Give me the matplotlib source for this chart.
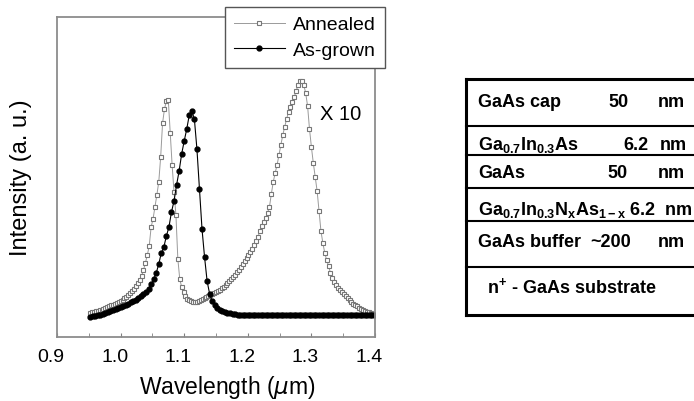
import numpy as np
import matplotlib
matplotlib.use("Agg")
import matplotlib.pyplot as plt
from matplotlib.transforms import ScaledTranslation

plt.rcParams['font.family'] = ['Liberation Sans', 'DejaVu Sans']
plt.rcParams['mathtext.fontset'] = 'custom'
plt.rcParams['mathtext.rm'] = 'Liberation Sans:bold'
plt.rcParams['mathtext.it'] = 'Liberation Sans:bold'
plt.rcParams['mathtext.bf'] = 'Liberation Sans:bold'
plt.rcParams['mathtext.sf'] = 'Liberation Sans:bold'

# PL spectra, intensity in arbitrary units (annealed peak near 1.28 um shown x10)
annealed_start, annealed_step = 0.952, 0.003
annealed = [
    24, 25, 25, 26, 26, 27, 27, 28, 29, 30,
    31, 32, 32, 33, 34, 35, 36, 37, 39, 40,
    42, 44, 46, 48, 51, 54, 57, 61, 67, 74,
    82, 91, 110, 118, 130, 142, 155, 180, 214, 228,
    236, 237, 204, 172, 145, 122, 78, 58, 50, 45,
    41, 38, 37, 36, 35, 35, 35, 36, 37, 38,
    39, 40, 41, 42, 43, 44, 45, 46, 47, 49,
    50, 52, 54, 56, 58, 60, 62, 65, 67, 70,
    73, 76, 79, 82, 85, 88, 92, 96, 100, 106,
    111, 115, 119, 124, 130, 143, 155, 164, 172, 182,
    192, 202, 210, 218, 225, 230, 235, 240, 246, 252,
    256, 256, 252, 244, 231, 208, 190, 174, 160, 146,
    126, 106, 94, 84, 77, 71, 64, 59, 55, 52,
    49, 47, 45, 43, 41, 39, 37, 35, 33, 32,
    31, 29, 28, 27, 26, 25, 25, 24, 23,
]

grown_start, grown_step = 0.952, 0.004
as_grown = [
    20, 21, 21, 22, 22, 23, 24, 25, 26, 27,
    28, 29, 30, 31, 32, 33, 35, 36, 37, 39,
    41, 43, 45, 48, 53, 58, 64, 73, 84, 90,
    101, 110, 125, 136, 152, 166, 183, 196, 208, 222,
    226, 218, 188, 148, 108, 80, 56, 43, 36, 32,
    29, 27, 26, 25, 24, 24, 23, 23, 22, 22,
    22, 22, 22, 22, 22, 22, 22, 22, 22, 22,
    22, 22, 22, 22, 22, 22, 22, 22, 22, 22,
    22, 22, 22, 22, 22, 22, 22, 22, 22, 22,
    22, 22, 22, 22, 22, 22, 22, 22, 22, 22,
    22, 22, 22, 22, 22, 22, 22, 22, 22, 22,
    22, 22, 22, 21,
]

wl_annealed = annealed_start + annealed_step * np.arange(len(annealed))
wl_grown = grown_start + grown_step * np.arange(len(as_grown))

major_ticks = [0.9, 1.0, 1.1, 1.2, 1.3, 1.4]
minor_ticks = [0.95, 1.05, 1.15, 1.25, 1.35]

# layer stack of the sample: (left text, value, value x, unit x, baseline y)
layers = [
    ("GaAs cap", "50", 608, 658, 107),
    ("Ga$_{0.7}$In$_{0.3}$As", "6.2", 623, 660, 150),
    ("GaAs", "50", 607, 658, 178),
    ("Ga$_{0.7}$In$_{0.3}$N$_{x}$As$_{1-x}$ 6.2  nm", "", 0, 0, 215),
    ("GaAs buffer", "~200", 590, 658, 247),
]
substrate = "n$^{+}$ - GaAs substrate"
row_lines = [127, 156, 189, 222, 268]

fig = plt.figure(figsize=(6.94, 4.02), dpi=100)
ax = fig.add_axes([57 / 694, 64 / 402, 318 / 694, 320 / 402])

ax.plot(wl_annealed, annealed, color='#9a9a9a', lw=0.7, marker='s', ms=3.3,
        mfc='white', mec='#777777', mew=0.8, label='Annealed')
ax.plot(wl_grown, as_grown, color='black', lw=0.8, marker='o', ms=3.5,
        mfc='black', mec='black', label='As-grown')

ax.set_xlim(0.9, 1.4)
ax.set_ylim(0, 320)
ax.set_xticks(major_ticks)
ax.set_xticks(minor_ticks, minor=True)
ax.set_xticklabels([f"{t:.1f}" for t in major_ticks])
ax.set_yticks([])
ax.tick_params(axis='x', which='both', direction='in', length=3, color='#808080',
               labelsize=14, pad=8)
for lbl in ax.get_xticklabels():
    lbl.set_transform(lbl.get_transform() + ScaledTranslation(-6 / 100, 0, fig.dpi_scale_trans))
for s in ax.spines.values():
    s.set_color('#8c8c8c')
    s.set_linewidth(1.3)

ax.set_xlabel('Wavelength ($\\mu$m)', fontsize=16.5, math_fontfamily='dejavusans')
ax.xaxis.set_label_coords(0.536, -0.112)
ax.set_ylabel('Intensity (a. u.)', fontsize=17, labelpad=18)

ax.text(1.3135, 223, 'X 10', fontsize=14.5, ha='left', va='center')

leg = ax.legend(loc='upper right', bbox_to_anchor=(385 / 694, 394 / 402),
                bbox_transform=fig.transFigure, fontsize=14, fancybox=False,
                edgecolor='#555555', framealpha=1, borderaxespad=0,
                handlelength=2.6, handletextpad=0.45, borderpad=0.45,
                labelspacing=0.4)
leg.get_frame().set_linewidth(1.0)

# sample structure table, drawn in pixel coordinates
tab = fig.add_axes([0, 0, 1, 1])
tab.set_xlim(0, 694)
tab.set_ylim(402, 0)
tab.axis('off')
tab.plot([466, 466], [80, 316], color='black', lw=2.2, solid_capstyle='projecting')
tab.plot([466, 700], [80, 80], color='black', lw=2.2)
tab.plot([466, 700], [316, 316], color='black', lw=2.2)
for y in row_lines:
    tab.plot([466, 700], [y, y], color='black', lw=1.5)

for name, val, vx, ux, base in layers:
    tab.text(478, base, name, fontsize=13, fontweight='bold', ha='left', va='baseline')
    if val:
        tab.text(vx, base, val, fontsize=13, fontweight='bold', ha='left', va='baseline')
        tab.text(ux, base, "nm", fontsize=13, fontweight='bold', ha='left', va='baseline')
tab.text(487, 293, substrate, fontsize=13, fontweight='bold', ha='left', va='baseline')

fig.savefig("out.png", dpi=100)
